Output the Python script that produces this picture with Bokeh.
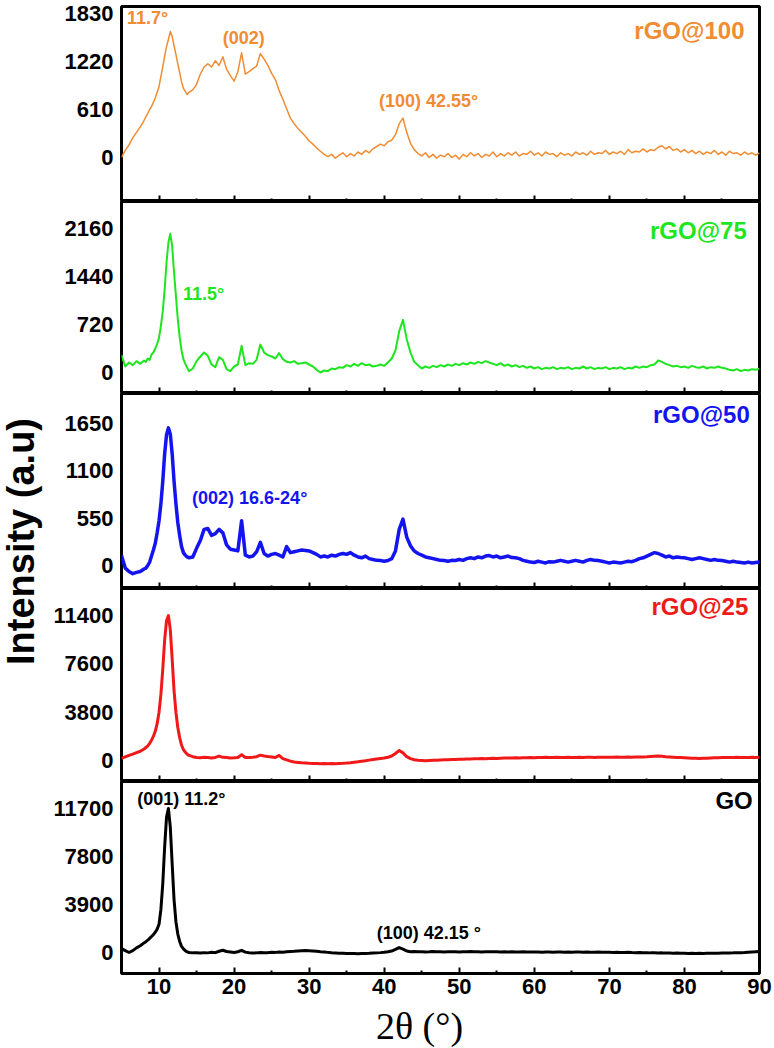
import math
from bokeh.plotting import figure
from bokeh.layouts import row, column
from bokeh.models import Range1d, FixedTicker, Label, LinearAxis
from bokeh.embed import file_html
from bokeh.resources import INLINE

# 2-theta positions (degrees), denser around the (001) reflection
two_theta = [
    5, 5.5, 6, 6.5, 7, 7.5, 8,
    8.25, 8.5, 8.75, 9, 9.25, 9.5, 9.75, 10,
    10.25, 10.5, 10.75, 11, 11.25, 11.5, 11.75, 12,
    12.25, 12.5, 12.75, 13, 13.25, 13.5, 13.75, 14,
    14.5, 15, 15.5, 16, 16.5, 17, 17.5, 18, 18.5, 19,
    19.5, 20, 20.5, 21, 21.5, 22, 22.5, 23, 23.5, 24,
    24.5, 25, 25.5, 26, 26.5, 27, 27.5, 28, 28.5, 29,
    29.5, 30, 30.5, 31, 31.5, 32, 32.5, 33, 33.5, 34,
    34.5, 35, 35.5, 36, 36.5, 37, 37.5, 38, 38.5, 39,
    39.5, 40, 40.5, 41, 41.5, 42, 42.5, 43, 43.5, 44,
    44.5, 45, 45.5, 46, 46.5, 47, 47.5, 48, 48.5, 49,
    49.5, 50, 50.5, 51, 51.5, 52, 52.5, 53, 53.5, 54,
    54.5, 55, 55.5, 56, 56.5, 57, 57.5, 58, 58.5, 59,
    59.5, 60, 60.5, 61, 61.5, 62, 62.5, 63, 63.5, 64,
    64.5, 65, 65.5, 66, 66.5, 67, 67.5, 68, 68.5, 69,
    69.5, 70, 70.5, 71, 71.5, 72, 72.5, 73, 73.5, 74,
    74.5, 75, 75.5, 76, 76.5, 77, 77.5, 78, 78.5, 79,
    79.5, 80, 80.5, 81, 81.5, 82, 82.5, 83, 83.5, 84,
    84.5, 85, 85.5, 86, 86.5, 87, 87.5, 88, 88.5, 89,
    89.5, 90,
]

rgo_100 = [
    0, 90, 160, 250, 320, 390, 470,
    520, 560, 610, 650, 700, 760, 830, 900,
    1030, 1150, 1290, 1410, 1500, 1600, 1540, 1420,
    1310, 1190, 1080, 960, 880, 840, 800, 830,
    860, 930, 1060, 1150, 1190, 1150, 1230, 1170, 1280, 1120,
    1040, 970, 1090, 1330, 1060, 1090, 1130, 1160, 1320, 1250,
    1170, 1070, 990, 850, 740, 620, 500, 430, 370, 320,
    270, 210, 170, 120, 80, 40, 10, 40, -10, 30,
    60, 10, 50, 20, 70, 40, 90, 60, 110, 140,
    170, 150, 200, 220, 290, 430, 500, 320, 180, 100,
    50, 20, 60, 0, 40, -10, 30, 10, 50, 0,
    30, -20, 40, 10, 60, 20, 50, 0, 40, 20,
    70, 10, 50, 20, 60, 30, 70, 20, 50, 40,
    80, 30, 60, 20, 70, 40, 50, 10, 60, 30,
    50, 20, 70, 40, 60, 30, 80, 40, 60, 50,
    90, 40, 70, 50, 80, 40, 100, 60, 80, 70,
    110, 70, 100, 90, 130, 150, 110, 140, 90, 110,
    70, 100, 60, 90, 50, 80, 40, 70, 50, 90,
    40, 70, 30, 80, 50, 60, 30, 70, 40, 60,
    30, 60,
]

rgo_75 = [
    260, 90, 150, 110, 170, 130, 180,
    160, 210, 190, 270, 300, 360, 430, 520,
    700, 920, 1250, 1650, 1950, 2080, 1900, 1500,
    1150, 800, 530, 330, 200, 130, 70, 20,
    60, 170, 240, 300, 250, 120, 80, 230, 190, 50,
    20, 90, 120, 400, 110, 140, 130, 190, 420, 300,
    260, 240, 210, 290, 200, 160, 150, 170, 130, 140,
    150, 120, 90, 40, 0, 30, 20, 60, 50, 80,
    70, 110, 90, 130, 100, 140, 110, 120, 90, 100,
    120, 100, 150, 210, 330, 620, 790, 500, 300, 160,
    110, 60, 90, 70, 100, 80, 110, 90, 120, 100,
    130, 110, 140, 120, 150, 130, 160, 140, 170, 150,
    130, 110, 140, 100, 120, 90, 110, 80, 100, 70,
    90, 60, 80, 50, 70, 60, 80, 50, 70, 60,
    80, 50, 70, 60, 90, 60, 80, 50, 70, 60,
    80, 50, 70, 60, 80, 50, 70, 60, 90, 70,
    90, 80, 110, 120, 180, 160, 130, 110, 90, 100,
    80, 90, 70, 100, 80, 70, 90, 60, 80, 70,
    90, 70, 60, 40, 30, 50, 20, 40, 30, 50,
    40, 60,
]

rgo_50 = [
    116, -30, -70, -95, -80, -70, -40,
    -30, 0, 40, 110, 180, 260, 380, 520,
    720, 980, 1300, 1520, 1600, 1530, 1300, 980,
    720, 500, 350, 220, 150, 120, 100, 90,
    100, 200, 290, 420, 430, 350, 370, 420, 380, 240,
    190, 180, 170, 520, 120, 100, 110, 160, 270, 140,
    110, 130, 140, 120, 100, 220, 150, 160, 170, 180,
    175, 170, 150, 130, 100, 110, 100, 120, 110, 130,
    140, 130, 150, 120, 100, 90, 110, 80, 70, 60,
    58, 50, 58, 80, 170, 420, 540, 330, 230, 170,
    140, 120, 100, 90, 80, 70, 60, 58, 50, 60,
    58, 70, 60, 80, 90, 80, 100, 90, 110, 116,
    100, 110, 90, 100, 110, 93, 90, 80, 60, 50,
    40, 35, 50, 40, 30, 45, 40, 50, 60, 50,
    40, 50, 60, 50, 40, 60, 70, 60, 58, 50,
    40, 30, 40, 35, 30, 40, 50, 45, 60, 80,
    90, 110, 130, 150, 140, 120, 100, 110, 90, 100,
    93, 90, 80, 70, 80, 90, 80, 70, 60, 70,
    60, 58, 50, 40, 50, 40, 35, 30, 40, 30,
    35, 40,
]

rgo_25 = [
    160, 280, 400, 500, 620, 730, 900,
    1020, 1150, 1350, 1600, 1900, 2300, 2900, 3800,
    5200, 7200, 9500, 11000, 11400, 10300, 8000, 5500,
    3800, 2600, 1800, 1200, 850, 650, 500, 400,
    300, 240, 220, 250, 230, 200, 240, 350, 250, 230,
    200, 210, 240, 450, 240, 230, 260, 300, 420, 350,
    310, 280, 240, 400, 150, 50, -50, -120, -150, -180,
    -200, -220, -230, -240, -250, -240, -260, -240, -250, -230,
    -220, -200, -170, -130, -100, -60, -20, 30, 80, 120,
    160, 200, 260, 350, 550, 790, 600, 300, 150, 60,
    20, 0, -20, 0, 10, 20, 40, 50, 60, 80,
    80, 90, 100, 110, 120, 130, 140, 150, 140, 160,
    170, 160, 180, 190, 200, 190, 210, 200, 220, 210,
    230, 220, 240, 230, 250, 240, 230, 250, 240, 240,
    250, 240, 230, 250, 240, 260, 250, 240, 250, 260,
    250, 260, 250, 270, 260, 250, 270, 260, 280, 270,
    280, 290, 310, 330, 350, 330, 300, 280, 260, 240,
    230, 220, 200, 180, 170, 160, 170, 180, 200, 210,
    220, 230, 240, 230, 240, 250, 240, 230, 240, 250,
    240, 250,
]

go = [
    325, 150, 0, 150, 380, 550, 780,
    880, 1000, 1150, 1300, 1450, 1650, 1900, 2300,
    3500, 5600, 8600, 11000, 11700, 10200, 7200, 4300,
    2500, 1500, 900, 500, 300, 150, 50, 0,
    -30, -20, -40, -10, -30, 20, -10, 100, 180, 80,
    40, 0, 60, 180, 30, -20, -40, -30, 0, -20,
    -10, 20, 10, 40, 30, 60, 80, 100, 130, 150,
    160, 150, 130, 100, 60, 40, 10, -20, -40, -60,
    -70, -80, -90, -80, -100, -90, -80, -70, -50, -30,
    -10, 20, 60, 120, 250, 400, 280, 120, 60, 80,
    60, 70, 50, 60, 80, 60, 70, 50, 60, 70,
    60, 50, 70, 60, 80, 60, 70, 50, 60, 70,
    60, 70, 50, 60, 40, 60, 50, 40, 60, 50,
    40, 50, 40, 30, 50, 40, 30, 40, 50, 30,
    40, 30, 50, 40, 30, 40, 20, 30, 40, 20,
    30, 20, 10, 20, 0, 10, 20, 0, -10, 0,
    -20, -10, -30, -20, -40, -30, -50, -40, -60, -50,
    -70, -60, -80, -70, -80, -70, -80, -70, -60, -70,
    -60, -50, -40, -50, -30, -20, -10, 0, 20, 40,
    60, 80,
]

for series in (rgo_100, rgo_75, rgo_50, rgo_25, go):
    assert len(series) == len(two_theta)

x_major = [10, 20, 30, 40, 50, 60, 70, 80, 90]
x_minor = [15, 25, 35, 45, 55, 65, 75, 85]

ticks_100 = [0, 610, 1220, 1830]
ticks_75 = [0, 720, 1440, 2160]
ticks_50 = [0, 550, 1100, 1650]
ticks_25 = [0, 3800, 7600, 11400]
ticks_go = [0, 3900, 7800, 11700]

ORANGE = "#F08C32"
GREEN = "#1EE61E"
BLUE = "#1414F0"
RED = "#F01818"
BLACK = "#000000"

SANS = "Liberation Sans"
SERIF = "Liberation Serif"


def tick_only(ax, positions, length):
    # an unlabelled axis: its tick positions are passed as minor ticks
    ax.ticker = FixedTicker(ticks=[], minor_ticks=positions)
    ax.axis_line_color = None
    ax.major_tick_line_color = None
    ax.minor_tick_in = length
    ax.minor_tick_out = 0
    ax.minor_tick_line_width = 2
    ax.minor_tick_line_color = "black"


def panel(y, color, lw, y_lo, y_hi, ticks, frame_h, top=0, bottom=0, last=False):
    p = figure(width=730, height=frame_h + top + bottom,
               x_range=Range1d(5, 90), y_range=Range1d(y_lo, y_hi),
               output_backend="svg", toolbar_location=None,
               min_border_left=77, min_border_right=15,
               min_border_top=top, min_border_bottom=bottom)
    p.line(two_theta, y, line_color=color, line_width=lw, line_join="round")
    p.xgrid.visible = False
    p.ygrid.visible = False
    p.outline_line_color = "black"
    p.outline_line_width = 3
    p.outline_line_alpha = 1

    xa = p.xaxis[0]
    if last:
        xa.ticker = FixedTicker(ticks=x_major, minor_ticks=x_minor)
        xa.axis_line_color = None
        xa.major_tick_in = 6
        xa.major_tick_out = 0
        xa.minor_tick_in = 3
        xa.minor_tick_out = 0
        xa.major_tick_line_width = 2
        xa.minor_tick_line_width = 2
        xa.major_tick_line_color = "black"
        xa.minor_tick_line_color = "black"
        xa.major_label_text_font = SANS
        xa.major_label_text_font_style = "bold"
        xa.major_label_text_font_size = "22px"
        xa.major_label_text_color = "black"
        xa.major_label_standoff = 5
    else:
        tick_only(xa, x_major, 6)
        extra = LinearAxis()
        tick_only(extra, x_minor, 3)
        p.add_layout(extra, "below")

    ya = p.yaxis[0]
    ya.ticker = FixedTicker(ticks=ticks)
    ya.major_tick_in = 0
    ya.major_tick_out = 0
    ya.minor_tick_line_color = None
    ya.axis_line_color = None
    ya.major_label_text_font = SANS
    ya.major_label_text_font_style = "bold"
    ya.major_label_text_font_size = "22px"
    ya.major_label_text_color = "black"
    ya.major_label_standoff = 8
    return p


def note(p, x, y, text, color, size="18px", align="left"):
    p.add_layout(Label(x=x, y=y, text=text, text_color=color,
                       text_font=SANS, text_font_style="bold",
                       text_font_size=size, text_align=align,
                       text_baseline="middle"))


def strip(w, h):
    f = figure(width=w, height=h, x_range=Range1d(0, w), y_range=Range1d(0, h),
               output_backend="svg", toolbar_location=None, min_border=0,
               x_axis_location=None, y_axis_location=None)
    f.xgrid.visible = False
    f.ygrid.visible = False
    f.outline_line_color = None
    return f


p100 = panel(rgo_100, ORANGE, 1.5, -559, 1919, ticks_100, 195, top=6)
note(p100, 5.73, 1767, "11.7°", ORANGE)
note(p100, 21.3, 1525, "(002)", ORANGE, align="center")
note(p100, 39.3, 724, "(100) 42.55°", ORANGE)
note(p100, 88.0, 1614, "rGO@100", ORANGE, size="24px", align="right")

p75 = panel(rgo_75, GREEN, 2, -315, 2565, ticks_75, 192)
note(p75, 13.2, 1185, "11.5°", GREEN)
note(p75, 88.3, 2130, "rGO@75", GREEN, size="24px", align="right")

p50 = panel(rgo_50, BLUE, 3.5, -267, 2000, ticks_50, 195)
note(p50, 14.4, 790, "(002)  16.6-24°", BLUE)
note(p50, 88.7, 1756, "rGO@50", BLUE, size="24px", align="right")

p25 = panel(rgo_25, RED, 3, -1653, 13536, ticks_25, 193)
note(p25, 88.5, 12120, "rGO@25", RED, size="24px", align="right")

pgo = panel(go, BLACK, 3, -1706, 13894, ticks_go, 192, bottom=30, last=True)
note(pgo, 7.1, 12510, "(001) 11.2°", BLACK)
note(pgo, 39.0, 1625, "(100)  42.15 °", BLACK)
note(pgo, 89.1, 12350, "GO", BLACK, size="24px", align="right")

# x-axis title strip under the bottom panel
xtitle = strip(730, 45)
xtitle.add_layout(Label(x=341, y=22.5, text="2θ (°)", text_font=SERIF,
                        text_font_size="38px", text_align="center",
                        text_baseline="middle", text_color="black"))

# shared y-axis title strip on the left
ytitle = strip(44, 1048)
ytitle.add_layout(Label(x=20, y=507, text="Intensity (a.u)", angle=math.pi / 2,
                        text_font=SANS, text_font_style="bold", text_font_size="38px",
                        text_align="center", text_baseline="middle", text_color="black"))

layout = row(ytitle, column(p100, p75, p50, p25, pgo, xtitle, spacing=0), spacing=0)

open("out.html", "w").write(file_html(layout, INLINE))
